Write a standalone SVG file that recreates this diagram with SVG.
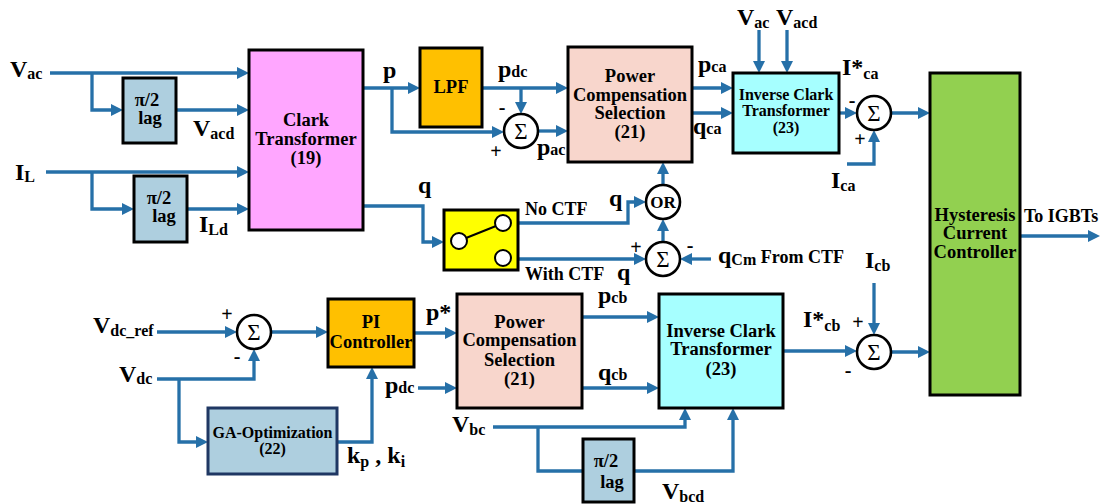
<svg xmlns="http://www.w3.org/2000/svg" width="1107" height="504" viewBox="0 0 1107 504">
<style>
text{font-family:'Liberation Serif','DejaVu Serif',serif}
.t{font-weight:bold;fill:#000}
.lbl{font-size:24px}
.sub{font-size:16px}
.bx{font-size:18.5px;text-anchor:middle}
.bs{font-size:16px;text-anchor:middle}
.sm{font-size:18px}
.sg{font-size:20px;text-anchor:middle}
.box{stroke:#000;stroke-width:3}
.ln{fill:none;stroke:#2670a8;stroke-width:3.3}
.ar{marker-end:url(#ah)}
.sum{fill:#fff;stroke:#000;stroke-width:2.6}
.sigma{font-size:23px;text-anchor:middle;fill:#000}
</style>
<defs>
<marker id="ah" markerUnits="userSpaceOnUse" viewBox="0 0 12 12" markerWidth="12" markerHeight="12" refX="8" refY="6" orient="auto">
<path d="M0,0 L12,6 L0,12 z" fill="#2670a8"/>
</marker>
</defs>
<rect width="1107" height="504" fill="#fff"/>

<g id="connectors">
<path class="ln ar" d="M50,73 H245"/>
<path class="ln ar" d="M92,73 V110 H119"/>
<path class="ln ar" d="M176,110 H245"/>
<path class="ln ar" d="M46,172 H245"/>
<path class="ln ar" d="M92,172 V209 H130"/>
<path class="ln ar" d="M187,209 H245"/>
<path class="ln ar" d="M363,88 H416"/>
<path class="ln ar" d="M392,88 V132 H500"/>
<path class="ln ar" d="M482,88 H564"/>
<path class="ln ar" d="M521,88 V110"/>
<path class="ln ar" d="M538,131 H564"/>
<path class="ln ar" d="M692,88 H729"/>
<path class="ln ar" d="M692,113 H729"/>
<path class="ln ar" d="M363,206 H423 V242 H440"/>
<path class="ln ar" d="M518,223 H628 V202 H642"/>
<path class="ln ar" d="M663,185 V166"/>
<path class="ln ar" d="M663,242 V223"/>
<path class="ln ar" d="M518,259 H642"/>
<path class="ln ar" d="M711,259 H684"/>
<path class="ln ar" d="M759,30 V69"/>
<path class="ln ar" d="M787,30 V69"/>
<path class="ln ar" d="M839,113 H853"/>
<path class="ln ar" d="M847,164 H874 V134"/>
<path class="ln ar" d="M891,113 H926"/>
<path class="ln ar" d="M1020,236 H1096"/>
<path class="ln ar" d="M874,283 V331"/>
<path class="ln ar" d="M783,351 H853"/>
<path class="ln ar" d="M891,352 H926"/>
<path class="ln ar" d="M157,332 H233"/>
<path class="ln ar" d="M157,379 H254 V353"/>
<path class="ln ar" d="M179,379 V442 H204"/>
<path class="ln ar" d="M271,332 H324"/>
<path class="ln ar" d="M337,442 H372 V371"/>
<path class="ln ar" d="M414,333 H453"/>
<path class="ln ar" d="M418,388 H453"/>
<path class="ln ar" d="M582,317 H655"/>
<path class="ln ar" d="M582,388 H655"/>
<path class="ln ar" d="M493,427 H685 V412"/>
<path class="ln" d="M538,427 V471 H583"/>
<path class="ln ar" d="M634,471 H733 V412"/>
</g>

<g id="clark">
<rect class="box" x="249" y="50" width="114" height="180" fill="#ffa6ff"/>
<text class="t bx" font-size="19" x="306" y="126">Clark</text>
<text class="t bx" x="306" y="145">Transformer</text>
<text class="t bx" x="306" y="164">(19)</text>
</g>
<g id="lag1">
<rect class="box" x="123" y="78" width="53" height="65" fill="#aecfdf"/>
<text class="t bx" font-size="16" x="147" y="106">π/2</text>
<text class="t bx" font-size="16" x="150" y="124">lag</text>
</g>
<g id="lag2">
<rect class="box" x="134" y="176" width="53" height="66" fill="#aecfdf"/>
<text class="t bx" font-size="16" x="159" y="204">π/2</text>
<text class="t bx" font-size="16" x="164" y="222">lag</text>
</g>
<g id="lpf">
<rect class="box" x="420" y="48" width="62" height="79" fill="#ffc000"/>
<text class="t bx" x="451" y="93">LPF</text>
</g>
<g id="sum1">
<circle class="sum" cx="521" cy="131" r="17"/>
<text class="sigma" x="521" y="139">Σ</text>
</g>
<g id="pcs1">
<rect class="box" x="568" y="47" width="124" height="115" fill="#f8d6cc"/>
<text class="t bx" x="630" y="82">Power</text>
<text class="t bx" x="630" y="101">Compensation</text>
<text class="t bx" x="630" y="119">Selection</text>
<text class="t bx" x="630" y="138">(21)</text>
</g>
<g id="switch">
<rect class="box" x="444" y="210" width="74" height="60" fill="#ffff00"/>
<line x1="466" y1="238" x2="496" y2="226" stroke="#000" stroke-width="2"/>
<circle cx="459" cy="241" r="8" fill="#fff" stroke="#000" stroke-width="2"/>
<circle cx="503" cy="223" r="8" fill="#fff" stroke="#000" stroke-width="2"/>
<circle cx="503" cy="258" r="8" fill="#fff" stroke="#000" stroke-width="2"/>
</g>
<g id="or">
<circle class="sum" cx="663" cy="202" r="17"/>
<text class="t" font-size="17" text-anchor="middle" x="663" y="208">OR</text>
</g>
<g id="sum2">
<circle class="sum" cx="663" cy="259" r="17"/>
<text class="sigma" x="663" y="267">Σ</text>
</g>
<g id="ict1">
<rect class="box" x="733" y="73" width="106" height="80" fill="#a6ffff"/>
<text class="t bs" x="786" y="100">Inverse Clark</text>
<text class="t bs" x="786" y="116">Transformer</text>
<text class="t bs" x="786" y="133">(23)</text>
</g>
<g id="sum3">
<circle class="sum" cx="874" cy="113" r="17"/>
<text class="sigma" x="874" y="121">Σ</text>
</g>
<g id="hysteresis">
<rect class="box" x="930" y="73" width="90" height="322" fill="#92d050"/>
<text class="t bx" font-size="19" x="975" y="221">Hysteresis</text>
<text class="t bx" font-size="19" x="975" y="239">Current</text>
<text class="t bx" font-size="19" x="975" y="258">Controller</text>
</g>
<g id="sum4">
<circle class="sum" cx="874" cy="352" r="17"/>
<text class="sigma" x="874" y="360">Σ</text>
</g>
<g id="sum5">
<circle class="sum" cx="254" cy="332" r="17" stroke="#1f3763"/>
<text class="sigma" x="254" y="340">Σ</text>
</g>
<g id="pi">
<rect class="box" x="328" y="299" width="86" height="68" fill="#ffc000"/>
<text class="t bx" x="371" y="328">PI</text>
<text class="t bx" x="371" y="348">Controller</text>
</g>
<g id="ga">
<rect x="208" y="408" width="129" height="66" fill="#aecfdf" stroke="#1f3763" stroke-width="3"/>
<text class="t bs" x="272.5" y="438">GA-Optimization</text>
<text class="t bs" x="272.5" y="454">(22)</text>
</g>
<g id="pcs2">
<rect class="box" x="457" y="294" width="125" height="114" fill="#f8d6cc"/>
<text class="t bx" x="519.5" y="328">Power</text>
<text class="t bx" x="519.5" y="346">Compensation</text>
<text class="t bx" x="519.5" y="366">Selection</text>
<text class="t bx" x="519.5" y="385">(21)</text>
</g>
<g id="ict2">
<rect class="box" x="659" y="294" width="124" height="114" fill="#a6ffff"/>
<text class="t bx" font-size="18" x="721" y="337">Inverse Clark</text>
<text class="t bx" font-size="18" x="721" y="355">Transformer</text>
<text class="t bx" font-size="18" x="721" y="375">(23)</text>
</g>
<g id="lag3">
<rect class="box" x="583" y="439" width="51" height="63" fill="#aecfdf"/>
<text class="t bx" font-size="16" x="606" y="467">π/2</text>
<text class="t bx" font-size="16" x="612" y="488">lag</text>
</g>

<g id="labels">
<text class="t lbl" x="10" y="77">V<tspan class="sub" dy="2">ac</tspan></text>
<text class="t lbl" x="193" y="136">V<tspan class="sub" dy="3">acd</tspan></text>
<text class="t lbl" x="15" y="180">I<tspan class="sub" dy="2">L</tspan></text>
<text class="t lbl" x="199" y="232">I<tspan class="sub" dy="3">Ld</tspan></text>
<text class="t lbl" x="383" y="78">p</text>
<text class="t lbl" x="498" y="77">p<tspan class="sub">dc</tspan></text>
<text class="t sg" x="502" y="114">-</text>
<text class="t sg" x="496" y="158">+</text>
<text class="t lbl" x="537" y="155">p<tspan class="sub">ac</tspan></text>
<text class="t lbl" x="698" y="72">p<tspan class="sub">ca</tspan></text>
<text class="t lbl" x="693" y="134">q<tspan class="sub">ca</tspan></text>
<text class="t lbl" x="418" y="193">q</text>
<text class="t sm" x="525" y="215">No CTF</text>
<text class="t lbl" x="609" y="206">q</text>
<text class="t sm" x="525" y="280">With CTF</text>
<text class="t lbl" x="617" y="280">q</text>
<text class="t sg" x="636" y="254">+</text>
<text class="t sg" x="690" y="252">-</text>
<text class="t lbl" x="718" y="263">q<tspan class="sub" dy="2">Cm</tspan><tspan class="sm" dy="-2"> From CTF</tspan></text>
<text class="t lbl" x="737" y="25">V<tspan class="sub" dy="3">ac</tspan></text>
<text class="t lbl" x="776" y="25">V<tspan class="sub" dy="3">acd</tspan></text>
<text class="t lbl" x="842" y="75">I*<tspan class="sub" dy="4">ca</tspan></text>
<text class="t sg" x="852" y="107">-</text>
<text class="t sg" x="860" y="146">+</text>
<text class="t lbl" x="831" y="188">I<tspan class="sub" dy="3">ca</tspan></text>
<text class="t sm" x="1024" y="222">To IGBTs</text>
<text class="t lbl" x="865" y="268">I<tspan class="sub" dy="3">cb</tspan></text>
<text class="t sg" x="858" y="329">+</text>
<text class="t sg" x="848" y="377">-</text>
<text class="t lbl" x="803" y="327">I*<tspan class="sub" dy="4">cb</tspan></text>
<text class="t lbl" x="93" y="333">V<tspan class="sub" dy="3">dc_ref</tspan></text>
<text class="t sg" x="227" y="321">+</text>
<text class="t sg" x="237" y="363">-</text>
<text class="t lbl" x="119" y="382">V<tspan class="sub" dy="2">dc</tspan></text>
<text class="t lbl" x="347" y="463">k<tspan class="sub" dy="4">p</tspan><tspan dy="-4"> , k</tspan><tspan class="sub" dy="4">i</tspan></text>
<text class="t lbl" x="426" y="320">p*</text>
<text class="t lbl" x="385" y="393">p<tspan class="sub">dc</tspan></text>
<text class="t lbl" x="598" y="303">p<tspan class="sub">cb</tspan></text>
<text class="t lbl" x="598" y="380">q<tspan class="sub">cb</tspan></text>
<text class="t lbl" x="452" y="432">V<tspan class="sub" dy="3">bc</tspan></text>
<text class="t lbl" x="662" y="499">V<tspan class="sub" dy="3">bcd</tspan></text>
</g>
</svg>
